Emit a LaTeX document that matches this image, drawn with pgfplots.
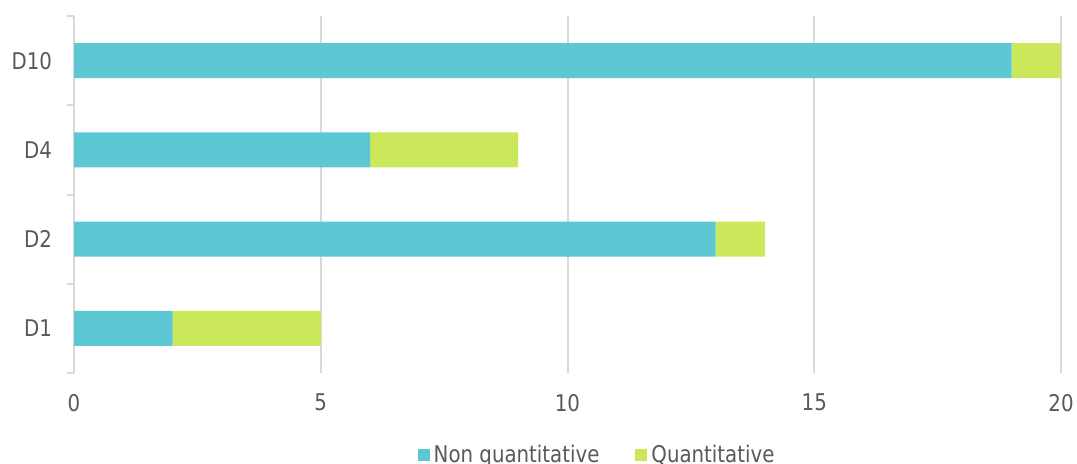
\documentclass[border=0pt]{standalone}
\usepackage{fontspec}
\setmainfont{DejaVu Sans}[FakeStretch=0.86]
\usepackage{pgfplots}
\pgfplotsset{compat=1.18}
\definecolor{cyanbar}{HTML}{5DC8D4}
\definecolor{greenbar}{HTML}{CAE85A}
\definecolor{gridgray}{HTML}{D9D9D9}
\definecolor{txtgray}{HTML}{595959}
\begin{document}
\begin{tikzpicture}
\begin{axis}[
  at={(0,0)}, anchor=south west,
  scale only axis,
  width=493.5pt, height=178.5pt,
  xbar stacked,
  bar width=17.5pt,
  xmin=0, xmax=20,
  ymin=-0.5, ymax=3.5,
  xtick={0,5,10,15,20},
  ytick={0,1,2,3},
  yticklabels={D1,D2,D4,D10},
  minor ytick={-0.5,0.5,1.5,2.5,3.5},
  major tick length=0pt,
  minor tick length=3.5pt,
  tick align=outside,
  tick style={gridgray, line width=1pt},
  axis y line*=left,
  axis x line*=bottom,
  axis line style={-},
  x axis line style={draw=none},
  y axis line style={draw=gridgray, line width=1pt},
  xmajorgrids,
  major grid style={gridgray, line width=1pt},
  font=\fontsize{11.5pt}{13pt}\selectfont,
  ticklabel style={text=txtgray},
  xticklabel style={yshift=-7pt},
  yticklabel style={xshift=-7.5pt},
  /pgf/number format/assume math mode=true,
  legend style={draw=none, at={(0.531,-0.23)}, anchor=center, legend columns=2,
    font=\fontsize{11.5pt}{13pt}\selectfont, text=txtgray,
    /tikz/every even column/.append style={column sep=16pt}},
  legend image code/.code={\fill[#1] (0pt,-3pt) rectangle (6pt,3pt);},
  clip=false,
]
\addplot[fill=cyanbar, draw=none] coordinates {(2,0) (13,1) (6,2) (19,3)};
\addplot[fill=greenbar, draw=none] coordinates {(3,0) (1,1) (3,2) (1,3)};
\legend{Non quantitative, Quantitative}
\end{axis}
\pgfresetboundingbox
\path (-37pt,-45pt) rectangle (501.5pt,186.5pt);
\end{tikzpicture}
\end{document}
